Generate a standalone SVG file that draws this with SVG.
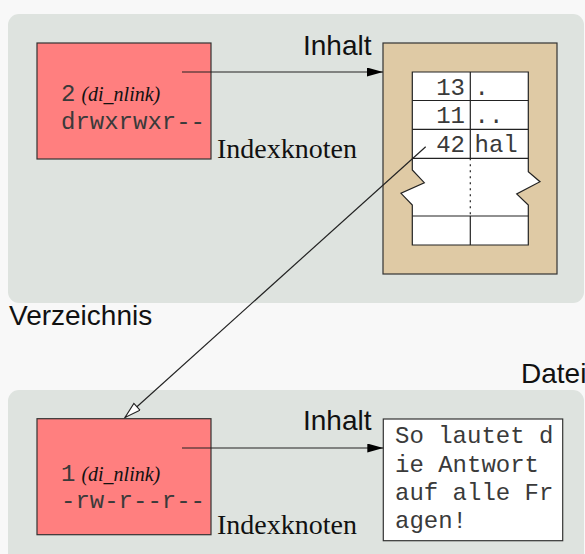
<svg xmlns="http://www.w3.org/2000/svg" width="585" height="554" viewBox="0 0 585 554">
  <defs>
    <style>
      .panel { fill: #dee3df; }
      .inode { fill: #ff7f7f; stroke: #333333; stroke-width: 1.2; }
      .mono { font-family: "Liberation Mono", "Courier New", monospace; font-size: 24px; fill: #3a3a3a; }
      .ital { font-family: "Liberation Serif", "Times New Roman", serif; font-style: italic; font-size: 20px; fill: #111111; }
      .serif { font-family: "Liberation Serif", "Times New Roman", serif; font-size: 28px; fill: #111111; }
      .sans { font-family: "Liberation Sans", Arial, sans-serif; font-size: 28px; fill: #111111; }
      .grid { stroke: #222222; stroke-width: 1.2; fill: none; }
      .conn { stroke: #222222; stroke-width: 1.2; fill: none; }
    </style>
    <marker id="arrowFilled" markerUnits="userSpaceOnUse" markerWidth="18" markerHeight="10" refX="16" refY="4.5" orient="auto">
      <path d="M0,0 L16,4.5 L0,9 Z" fill="#000000"/>
    </marker>
    <marker id="arrowOpen" markerUnits="userSpaceOnUse" markerWidth="20" markerHeight="12" refX="17" refY="5" orient="auto">
      <path d="M1,0.5 L17,5 L1,9.5 Z" fill="#ffffff" stroke="#222222" stroke-width="1.1"/>
    </marker>
  </defs>

  <rect x="0" y="0" width="585" height="554" fill="#f8f8f8"/>

  <g id="panel-verzeichnis">
    <rect class="panel" x="8" y="14" width="576" height="289" rx="11" ry="11"/>
    <text class="sans" x="9" y="325">Verzeichnis</text>
  </g>

  <g id="panel-datei">
    <rect class="panel" x="8" y="390" width="576" height="180" rx="11" ry="11"/>
    <text class="sans" x="521" y="383">Datei</text>
  </g>

  <g id="inode-dir">
    <rect class="inode" x="37" y="43" width="174" height="116"/>
    <text x="61" y="101"><tspan class="mono">2</tspan><tspan class="ital" dx="6">(di_nlink)</tspan></text>
    <text class="mono" x="61" y="129">drwxrwxr--</text>
    <text class="serif" x="217" y="158">Indexknoten</text>
  </g>

  <g id="dir-content">
    <rect x="383" y="43" width="174" height="231" fill="#dfcaa5" stroke="#333333" stroke-width="1.2"/>
    <path d="M412.3,72 H528.3 V171.7 L540,181.7 L516.7,194 L528.3,205 V245 H412.3 V205 L401,193.3 L424.3,182.7 L412.3,170 Z" fill="#ffffff" stroke="#222222" stroke-width="1.2"/>
    <path class="grid" d="M412.3,100.5 H528.3 M412.3,129.3 H528.3 M412.3,158.3 H528.3 M412.3,216 H528.3 M470.3,72 V158.3 M470.3,216 V245"/>
    <path class="grid" d="M470.3,158.3 V216" stroke-dasharray="2,4"/>
    <text class="mono" x="465" y="94.5" text-anchor="end">13</text>
    <text class="mono" x="474.5" y="94.5">.</text>
    <text class="mono" x="465" y="123.3" text-anchor="end">11</text>
    <text class="mono" x="474.5" y="123.3">..</text>
    <text class="mono" x="465" y="152" text-anchor="end">42</text>
    <text class="mono" x="474.5" y="152">hal</text>
    <text class="sans" x="303" y="55">Inhalt</text>
  </g>

  <g id="inode-file">
    <rect class="inode" x="37" y="418.7" width="174" height="116"/>
    <text x="61" y="481"><tspan class="mono">1</tspan><tspan class="ital" dx="6">(di_nlink)</tspan></text>
    <text class="mono" x="61" y="508">-rw-r--r--</text>
    <text class="serif" x="217" y="534">Indexknoten</text>
  </g>

  <g id="file-content">
    <rect x="383.3" y="419" width="179.4" height="121.7" fill="#ffffff" stroke="#333333" stroke-width="1.2"/>
    <text class="mono" x="395" y="443.3">So lautet d</text>
    <text class="mono" x="395" y="471.7">ie Antwort</text>
    <text class="mono" x="395" y="499.5">auf alle Fr</text>
    <text class="mono" x="395" y="528">agen!</text>
    <text class="sans" x="303" y="430">Inhalt</text>
  </g>

  <g id="connectors">
    <line class="conn" x1="182" y1="72" x2="383" y2="72" marker-end="url(#arrowFilled)"/>
    <line class="conn" x1="182" y1="448" x2="383.3" y2="448" marker-end="url(#arrowFilled)"/>
    <line class="conn" x1="425.7" y1="146.7" x2="125" y2="417.5" marker-end="url(#arrowOpen)"/>
  </g>
</svg>
